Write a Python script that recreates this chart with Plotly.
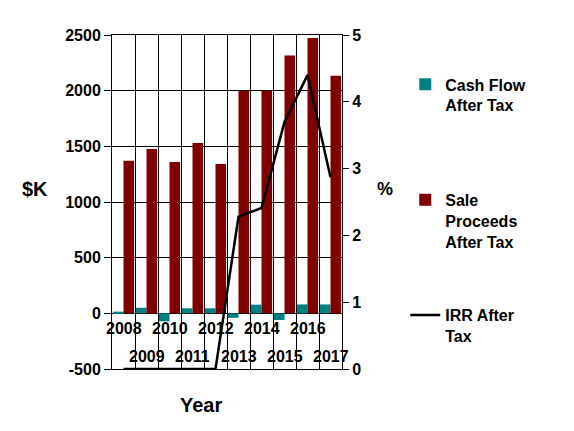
import plotly.graph_objects as go

years = ["2008", "2009", "2010", "2011", "2012", "2013", "2014", "2015", "2016", "2017"]
cash_flow = [15, 50, -72, 45, 45, -40, 78, -60, 80, 80]
sale_proceeds = [1370, 1477, 1360, 1531, 1342, 2000, 2000, 2315, 2474, 2133]
irr = [0, 0, 0, 0, 0, 2.28, 2.41, 3.70, 4.40, 2.87]

left_ticks = [-500, 0, 500, 1000, 1500, 2000, 2500]
left_tick_text = ["-500", "0", "500", "1000", "1500", "2000", "2500"]
right_ticks = [0, 1, 2, 3, 4, 5]
label_rows = [-140, -390]  # $K positions of the staggered year labels

FONT = "Liberation Sans, Arial, sans-serif"

fig = go.Figure()
fig.add_trace(go.Bar(x=years, y=cash_flow, name="Cash Flow<br>After Tax<br> ",
                     marker=dict(color="#008080", line=dict(width=0)),
                     legendgroup="a"))
fig.add_trace(go.Bar(x=years, y=sale_proceeds, name="Sale<br>Proceeds<br>After Tax",
                     marker=dict(color="#800000", line=dict(width=0)),
                     legendgroup="b"))
fig.add_trace(go.Scatter(x=years, y=irr, name="IRR After<br>Tax", mode="lines",
                         line=dict(color="black", width=2.5), yaxis="y2",
                         legendgroup="c"))

annotations = []
for i, yr in enumerate(years):
    annotations.append(dict(x=i, y=label_rows[i % 2], xref="x", yref="y", text=yr,
                            xanchor="center", yanchor="middle",
                            showarrow=False, font=dict(size=16, family=FONT, weight="bold",
                                                       color="black")))
annotations += [
    dict(x=-0.335, y=0.54, xref="paper", yref="paper", text="$K", showarrow=False,
         xanchor="center", yanchor="middle",
         font=dict(size=20, family=FONT, weight="bold", color="black")),
    dict(x=1.189, y=0.54, xref="paper", yref="paper", text="%", showarrow=False,
         xanchor="center", yanchor="middle",
         font=dict(size=18, family=FONT, weight="bold", color="black")),
    dict(x=0.387, y=-0.108, xref="paper", yref="paper", text="Year", showarrow=False,
         xanchor="center", yanchor="middle",
         font=dict(size=20, family=FONT, weight="bold", color="black")),
]

fig.update_layout(
    width=574, height=431,
    margin=dict(l=112, r=232, t=35, b=62),
    paper_bgcolor="white", plot_bgcolor="white",
    font=dict(family=FONT, size=16, color="black", weight="bold"),
    barmode="group", bargap=0.08, bargroupgap=0,
    showlegend=True,
    legend=dict(x=1.275, y=0.903, xanchor="left", yanchor="top", valign="top",
                tracegroupgap=50, font=dict(size=16, family=FONT, weight="bold"),
                bgcolor="rgba(0,0,0,0)"),
    xaxis=dict(type="category", tickson="boundaries", showgrid=True, gridcolor="black",
               gridwidth=1, showticklabels=False, ticks="", showline=True, mirror=True,
               linecolor="black", linewidth=1, range=[-0.5, 9.5]),
    yaxis=dict(range=[-500, 2500], tickvals=left_ticks, ticktext=left_tick_text,
               showgrid=True, gridcolor="black",
               gridwidth=1, zeroline=True, zerolinecolor="black", zerolinewidth=1,
               ticks="outside", ticklen=7, tickcolor="black", showline=True,
               linecolor="black", linewidth=1,
               tickfont=dict(size=16, family=FONT, weight="bold")),
    yaxis2=dict(range=[0, 5], tickvals=right_ticks, overlaying="y", side="right",
                showgrid=False, zeroline=False, ticks="outside", ticklen=6,
                tickcolor="black", showline=True, linecolor="black", linewidth=1,
                tickfont=dict(size=16, family=FONT, weight="bold")),
    annotations=annotations,
)

fig.write_html("out.html")
